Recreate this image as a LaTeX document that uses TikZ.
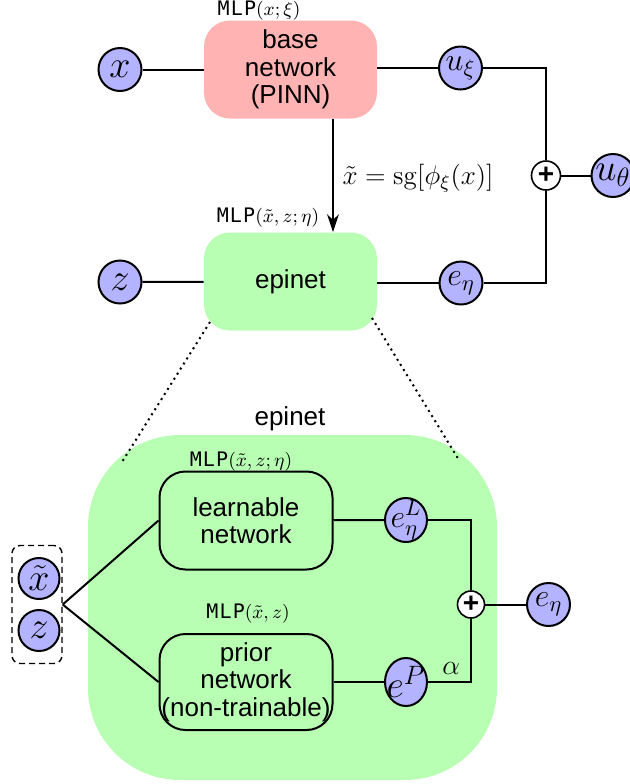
\RequirePackage{fix-cm}
\documentclass[tikz,border=0pt]{standalone}
\usepackage[no-math]{fontspec}
\setmainfont{Liberation Sans}
\newfontfamily\mlpfont[LetterSpace=6]{DejaVu Sans Mono}
\usetikzlibrary{arrows.meta,shapes.geometric}
\definecolor{basered}{RGB}{255,179,179}
\definecolor{epigreen}{RGB}{184,255,180}
\definecolor{varblue}{RGB}{179,179,255}
\newcommand{\mlp}[1]{{\fontsize{10}{10}\mlpfont MLP}{\fontsize{9.5}{9.5}\selectfont$#1$}}
\tikzset{
  wire/.style={line width=1pt},
  var/.style={circle, draw, line width=1pt, fill=varblue, inner sep=0pt,
    minimum size=21.5pt, font=\fontsize{19}{19}\selectfont},
  smallvar/.style={var, font=\fontsize{16}{16}\selectfont},
  evar/.style={ellipse, draw, line width=1pt, fill=varblue, inner sep=-2pt,
    minimum width=21pt, minimum height=22pt},
  sumnode/.style={circle, draw, line width=0.8pt, fill=white, inner sep=0pt,
    minimum size=#1, font=\fontsize{14}{14}\selectfont\bfseries},
  netbox/.style={rounded corners=13pt, minimum width=86.5pt, minimum height=49pt,
    align=center, inner sep=0pt, font=\fontsize{13}{13.75}\selectfont},
  innerbox/.style={netbox, draw, line width=1pt, fill=epigreen},
  mlplabel/.style={inner sep=0pt},
}
\begin{document}
\begin{tikzpicture}[x=0.5pt, y=-0.5pt]
\useasboundingbox (0,0) rectangle (629,784);

% expanded view of the epinet
\node[fill=epigreen, rounded corners=46pt, minimum width=204.5pt,
  minimum height=172.5pt, inner sep=0pt] (epibig) at (292.5,607.5) {};
\node[font=\fontsize{13}{13}\selectfont] (epititle) at (290,419) {epinet};

% top: base network and epinet
\node[netbox, fill=basered] (base) at (290.5,69.5) {base\\network\\(PINN)};
\node[netbox, fill=epigreen] (epi) at (290.5,281.5) {epinet};
\node[mlplabel] (mlpbase) at (259,11) {\mlp{(x;\xi)}};
\node[mlplabel] (mlpepi) at (268,218) {\mlp{(\tilde{x},z;\eta)}};

\node[var] (x) at (120,69.5) {$x$};
\node[var] (z) at (120,282) {$z$};
\node[smallvar] (uxi) at (460.5,68) {$u_\xi$};
\node[smallvar] (eeta) at (461,283) {$e_\eta$};
\node[sumnode=14.5pt] (sum) at (546,175.5) {+};
\node[var] (utheta) at (613,175.5) {$u_\theta$};

\draw[wire] (x) -- (base);
\draw[wire] (z) -- (epi);
\draw[wire] (base.east |- uxi) -- (uxi);
\draw[wire] (epi.east |- eeta) -- (eeta);
\draw[wire] (uxi) -| (sum);
\draw[wire] (eeta) -| (sum);
\draw[wire] (sum) -- (utheta);

\coordinate (ax) at (333,175);
\draw[wire, -{Stealth[length=9pt, width=6pt]}] (base.south -| ax) -- (epi.north -| ax)
  node[pos=0.52, right=1pt, font=\fontsize{13.5}{13.5}\selectfont] {$\tilde{x}=\mathrm{sg}[\phi_\xi(x)]$};

% zoom guide lines
\coordinate (zl1) at (210,322);
\coordinate (zl2) at (122,462);
\coordinate (zr1) at (372,318);
\coordinate (zr2) at (459,460);
\draw[line width=1pt, dotted] (zl1) -- (zl2);
\draw[line width=1pt, dotted] (zr1) -- (zr2);

% inside the epinet
\node[innerbox] (learn) at (246,520.5) {learnable\\network};
\node[innerbox, minimum height=48pt] (prior) at (246,682) {prior\\network\\(non-trainable)};
\node[mlplabel] (mlplearn) at (241,462) {\mlp{(\tilde{x},z;\eta)}};
\node[mlplabel] (mlpprior) at (248,614) {\mlp{(\tilde{x},z)}};

\node[draw, dashed, dash pattern=on 3pt off 2pt, line width=0.7pt, rounded corners=4pt,
  minimum width=25pt, minimum height=59pt, inner sep=0pt] (inputs) at (37,604.5) {};
\node[var, minimum size=20.5pt] (xt) at (39,578.5) {$\tilde{x}$};
\node[var, minimum size=20.5pt] (zin) at (39,630.5) {$z$};

\node[evar, inner sep=-2.5pt, font=\fontsize{16}{16}\selectfont] (eL) at (406,520) {$e_\eta^L$};
\node[evar, minimum height=24pt, inner sep=-3pt, font=\fontsize{19}{19}\selectfont] (eP) at (406,682) {$e^P$};
\node[sumnode=13.5pt] (sum2) at (471,604.5) {+};
\node[smallvar] (eout) at (548.5,604.5) {$e_\eta$};

\draw[wire] (inputs.east) -- (learn.west);
\draw[wire] (inputs.east) -- (prior.west);
\draw[wire] (learn) -- (eL);
\draw[wire] (prior) -- (eP);
\draw[wire] (eL) -| (sum2);
\draw[wire] (eP) -| (sum2) node[pos=0.27, above=0pt, font=\fontsize{14}{14}\selectfont] {$\alpha$};
\draw[wire] (sum2) -- (eout);
\end{tikzpicture}
\end{document}
